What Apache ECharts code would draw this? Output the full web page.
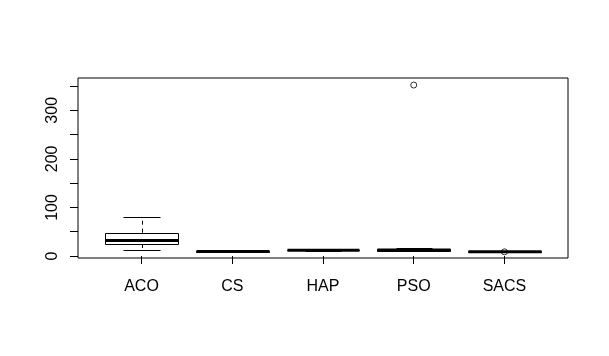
<!DOCTYPE html>
<html>
<head>
<meta charset="utf-8">
<script src="https://cdn.jsdelivr.net/npm/echarts@6/dist/echarts.min.js"></script>
<style>html,body{margin:0;padding:0;background:#fff;}#chart{width:609px;height:356px;}</style>
</head>
<body>
<div id="chart"></div>
<script>
var categories = ['ACO', 'CS', 'HAP', 'PSO', 'SACS'];
// [lowerWhisker, Q1, median, Q3, upperWhisker]
var boxACO  = [11.7, 24.7, 32.0, 48.0, 80.3];
var boxCS   = [8.5, 9.0, 9.5, 10.0, 10.5];
var boxHAP  = [11.0, 11.5, 12.0, 12.5, 13.0];
var boxPSO  = [9.5, 11.0, 12.4, 14.0, 16.0];
var boxSACS = [7.5, 8.4, 8.9, 9.4, 10.0];
var boxes = [boxACO, boxCS, boxHAP, boxPSO, boxSACS];
// outliers: [categoryIndex (1-based), value]
var outliers = [[4, 352], [5, 8.6]];
var yTicks = [0, 50, 100, 150, 200, 250, 300, 350];
var yLabels = [0, 100, 200, 300];

var boxData = boxes.map(function (b, i) { return [i + 1].concat(b); });
var FONT = '"Liberation Sans", Arial, sans-serif';

var chart = echarts.init(document.getElementById('chart'));
function px(v) { return Math.round(v) + 0.5; }
chart.setOption({
  animation: false,
  backgroundColor: '#fff',
  grid: { left: 78, top: 78, width: 490, height: 180, show: true, borderColor: '#000', borderWidth: 1, backgroundColor: 'transparent' },
  xAxis: {
    type: 'value', min: 0.3, max: 5.7,
    axisLine: { show: false },
    splitLine: { show: false },
    axisTick: { show: true, customValues: [1, 2, 3, 4, 5], length: 8, lineStyle: { color: '#000', width: 1 } },
    axisLabel: {
      customValues: [1, 2, 3, 4, 5], margin: 21, color: '#000', fontSize: 16, fontFamily: FONT,
      formatter: function (v) { return categories[Math.round(v) - 1] || ''; }
    }
  },
  yAxis: {
    type: 'value', min: -4.1, max: 366.5,
    axisLine: { show: false },
    splitLine: { show: false },
    axisTick: { show: true, customValues: yTicks, length: 8, lineStyle: { color: '#000', width: 1 } },
    axisLabel: { customValues: yLabels, rotate: 90, margin: 17, color: '#000', fontSize: 16, fontFamily: FONT }
  },
  series: [{
    type: 'custom',
    data: boxData,
    renderItem: function (params, api) {
      var x = api.value(0);
      var lo = api.coord([x, api.value(1)]);
      var q1 = api.coord([x, api.value(2)]);
      var md = api.coord([x, api.value(3)]);
      var q3 = api.coord([x, api.value(4)]);
      var hi = api.coord([x, api.value(5)]);
      var bw = api.size([0.8, 0])[0];
      var cx = px(lo[0]);
      var left = Math.round(lo[0] - bw / 2) + 0.5;
      var right = Math.round(lo[0] + bw / 2) + 0.5;
      var capL = Math.round(lo[0] - bw / 4) + 0.5;
      var capR = Math.round(lo[0] + bw / 4) + 0.5;
      var s = { stroke: '#000', lineWidth: 1, fill: null };
      var dash = { stroke: '#000', lineWidth: 1, lineDash: [4, 4] };
      return {
        type: 'group',
        children: [
          { type: 'line', shape: { x1: cx, y1: q3[1], x2: cx, y2: hi[1] }, style: dash },
          { type: 'line', shape: { x1: cx, y1: q1[1], x2: cx, y2: lo[1] }, style: dash },
          { type: 'line', shape: { x1: capL, y1: px(hi[1]), x2: capR, y2: px(hi[1]) }, style: s },
          { type: 'line', shape: { x1: capL, y1: px(lo[1]), x2: capR, y2: px(lo[1]) }, style: s },
          { type: 'rect', shape: { x: left, y: px(q3[1]), width: right - left, height: Math.max(px(q1[1]) - px(q3[1]), 0) }, style: { stroke: '#000', lineWidth: 1, fill: 'none' } },
          { type: 'line', shape: { x1: left, y1: md[1], x2: right, y2: md[1] }, style: { stroke: '#000', lineWidth: 3 } }
        ]
      };
    }
  }, {
    type: 'scatter',
    data: outliers,
    symbol: 'circle',
    symbolSize: 6,
    itemStyle: { color: 'rgba(0,0,0,0)', borderColor: '#000', borderWidth: 1 },
    z: 5
  }]
});
</script>
</body>
</html>
